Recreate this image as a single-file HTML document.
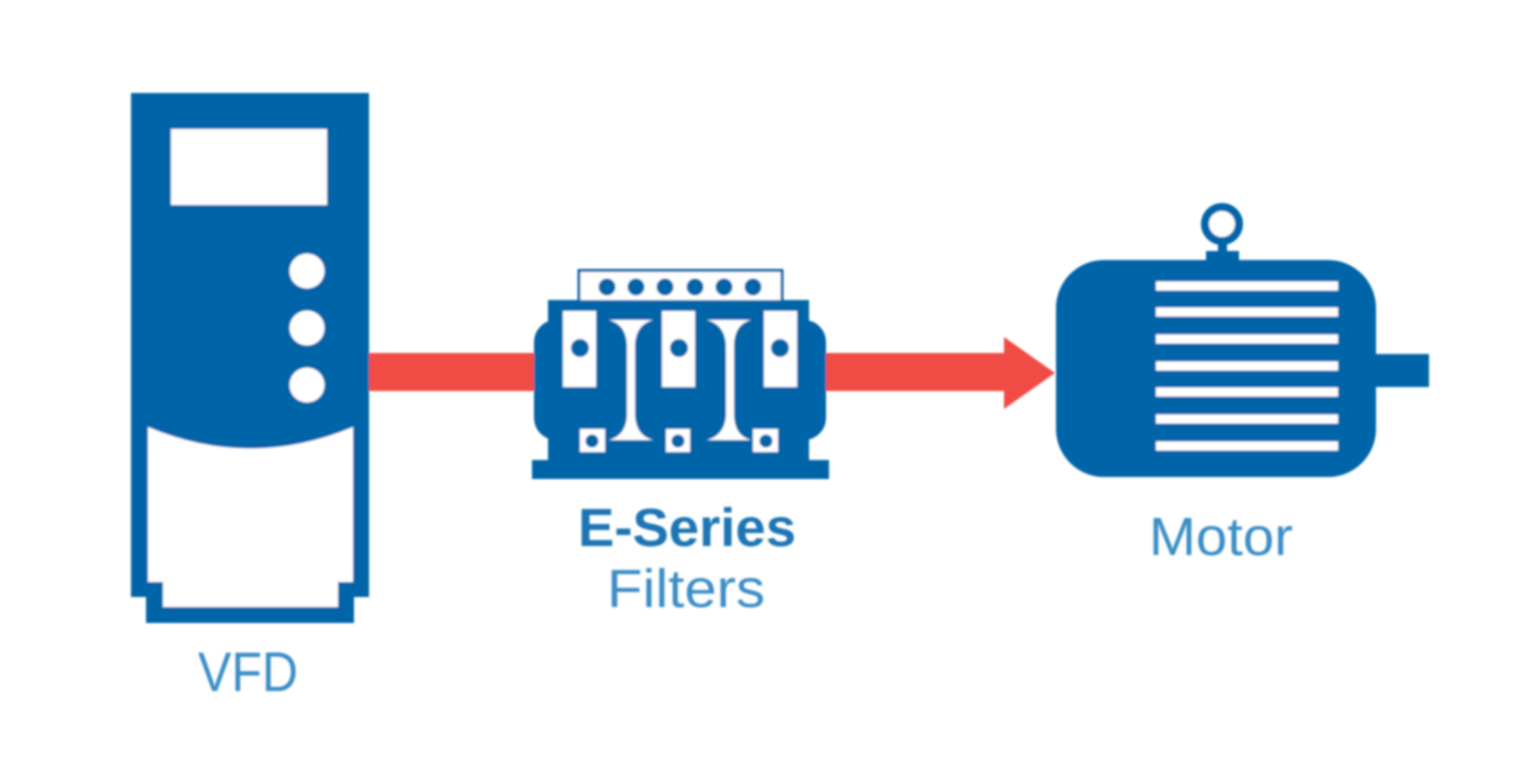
<!DOCTYPE html>
<html>
<head>
<meta charset="utf-8">
<style>
html,body{margin:0;padding:0;background:#fff;width:1536px;height:768px;overflow:hidden}
svg{display:block}
text{font-family:"Liberation Sans",sans-serif;text-anchor:start}
</style>
</head>
<body>
<svg width="1536" height="768" viewBox="0 0 1536 768" xmlns="http://www.w3.org/2000/svg">
<defs><filter id="b" x="-5%" y="-5%" width="110%" height="110%"><feGaussianBlur stdDeviation="1"/></filter></defs>
<rect width="1536" height="768" fill="#fff"/>
<g filter="url(#b)">
  <!-- connectors -->
  <rect x="365" y="353" width="175" height="38" fill="#f04c45"/>
  <path d="M822 353H1004V337L1055 373L1004 409V391H822Z" fill="#f04c45"/>

  <!-- VFD -->
  <path d="M131 93H369V597H354V623H146V597H131Z" fill="#0065a8"/>
  <rect x="171" y="129" width="156" height="76" fill="#fff"/>
  <circle cx="307" cy="271" r="17.5" fill="#fff"/>
  <circle cx="307" cy="328" r="17.5" fill="#fff"/>
  <circle cx="307" cy="385" r="17.5" fill="#fff"/>
  <path d="M148 427Q250 470 353 427V582H338V607H163V582H148Z" fill="#fff"/>

  <!-- Filter -->
  <rect x="579" y="270.5" width="203" height="32" fill="#fff" stroke="#0065a8" stroke-width="3"/>
  <g fill="#0065a8">
    <circle cx="607" cy="287" r="8.5"/><circle cx="636" cy="287" r="8.5"/><circle cx="665" cy="287" r="8.5"/>
    <circle cx="695" cy="287" r="8.5"/><circle cx="724" cy="287" r="8.5"/><circle cx="753" cy="287" r="8.5"/>
    <rect x="548" y="300" width="261" height="24"/>
    <rect x="534" y="320" width="292" height="120" rx="22"/>
    <rect x="548" y="436" width="261" height="26"/>
    <rect x="532" y="460" width="297" height="19"/>
  </g>
  <g fill="#fff">
    <path d="M609 320H653C642 323 635 331 635 347V413C635 429 642 437 653 440H609C620 437 627 429 627 413V347C627 331 620 323 609 320Z"/>
    <path d="M707 320H751C740 323 734 331 734 347V413C734 429 740 437 751 440H707C718 437 726 429 726 413V347C726 331 718 323 707 320Z"/>
    <rect x="563" y="311" width="33" height="76"/>
    <rect x="662" y="311" width="33" height="76"/>
    <rect x="764" y="311" width="33" height="76"/>
    <rect x="580" y="429" width="25" height="23"/>
    <rect x="666" y="429" width="24" height="23"/>
    <rect x="753" y="429" width="25" height="23"/>
  </g>
  <g fill="#0065a8">
    <circle cx="580" cy="348" r="9"/><circle cx="679" cy="348" r="9"/><circle cx="780" cy="348" r="9"/>
    <circle cx="592" cy="441" r="6.5"/><circle cx="678" cy="441" r="6.5"/><circle cx="766" cy="441" r="6.5"/>
  </g>

  <!-- Motor -->
  <g fill="#0065a8">
    <rect x="1056" y="260" width="320" height="217" rx="48"/>
    <rect x="1370" y="354" width="59" height="33"/>
    <rect x="1206" y="251" width="33" height="12"/>
    <rect x="1218" y="240" width="9" height="14"/>
  </g>
  <circle cx="1222" cy="224" r="17" fill="#fff" stroke="#0065a8" stroke-width="8"/>
  <g fill="#fff">
    <rect x="1156" y="281.5" width="182" height="9"/>
    <rect x="1156" y="307.5" width="182" height="9"/>
    <rect x="1156" y="334.5" width="182" height="9"/>
    <rect x="1156" y="361.5" width="182" height="9"/>
    <rect x="1156" y="387.5" width="182" height="9"/>
    <rect x="1156" y="414.5" width="182" height="9"/>
    <rect x="1156" y="441.5" width="182" height="9"/>
  </g>
</g>

<!-- labels -->
<g filter="url(#b)">
  <text x="198" y="691" font-size="56" fill="#3b8dc6" textLength="100" lengthAdjust="spacingAndGlyphs">VFD</text>
  <text x="578" y="546" font-size="54" font-weight="bold" fill="#1f74b4" textLength="218" lengthAdjust="spacingAndGlyphs">E-Series</text>
  <text x="607" y="607" font-size="54" fill="#3b8dc6" textLength="158" lengthAdjust="spacingAndGlyphs">Filters</text>
  <text x="1149" y="555" font-size="54" fill="#3b8dc6" textLength="144" lengthAdjust="spacingAndGlyphs">Motor</text>
</g>
</svg>
</body>
</html>
